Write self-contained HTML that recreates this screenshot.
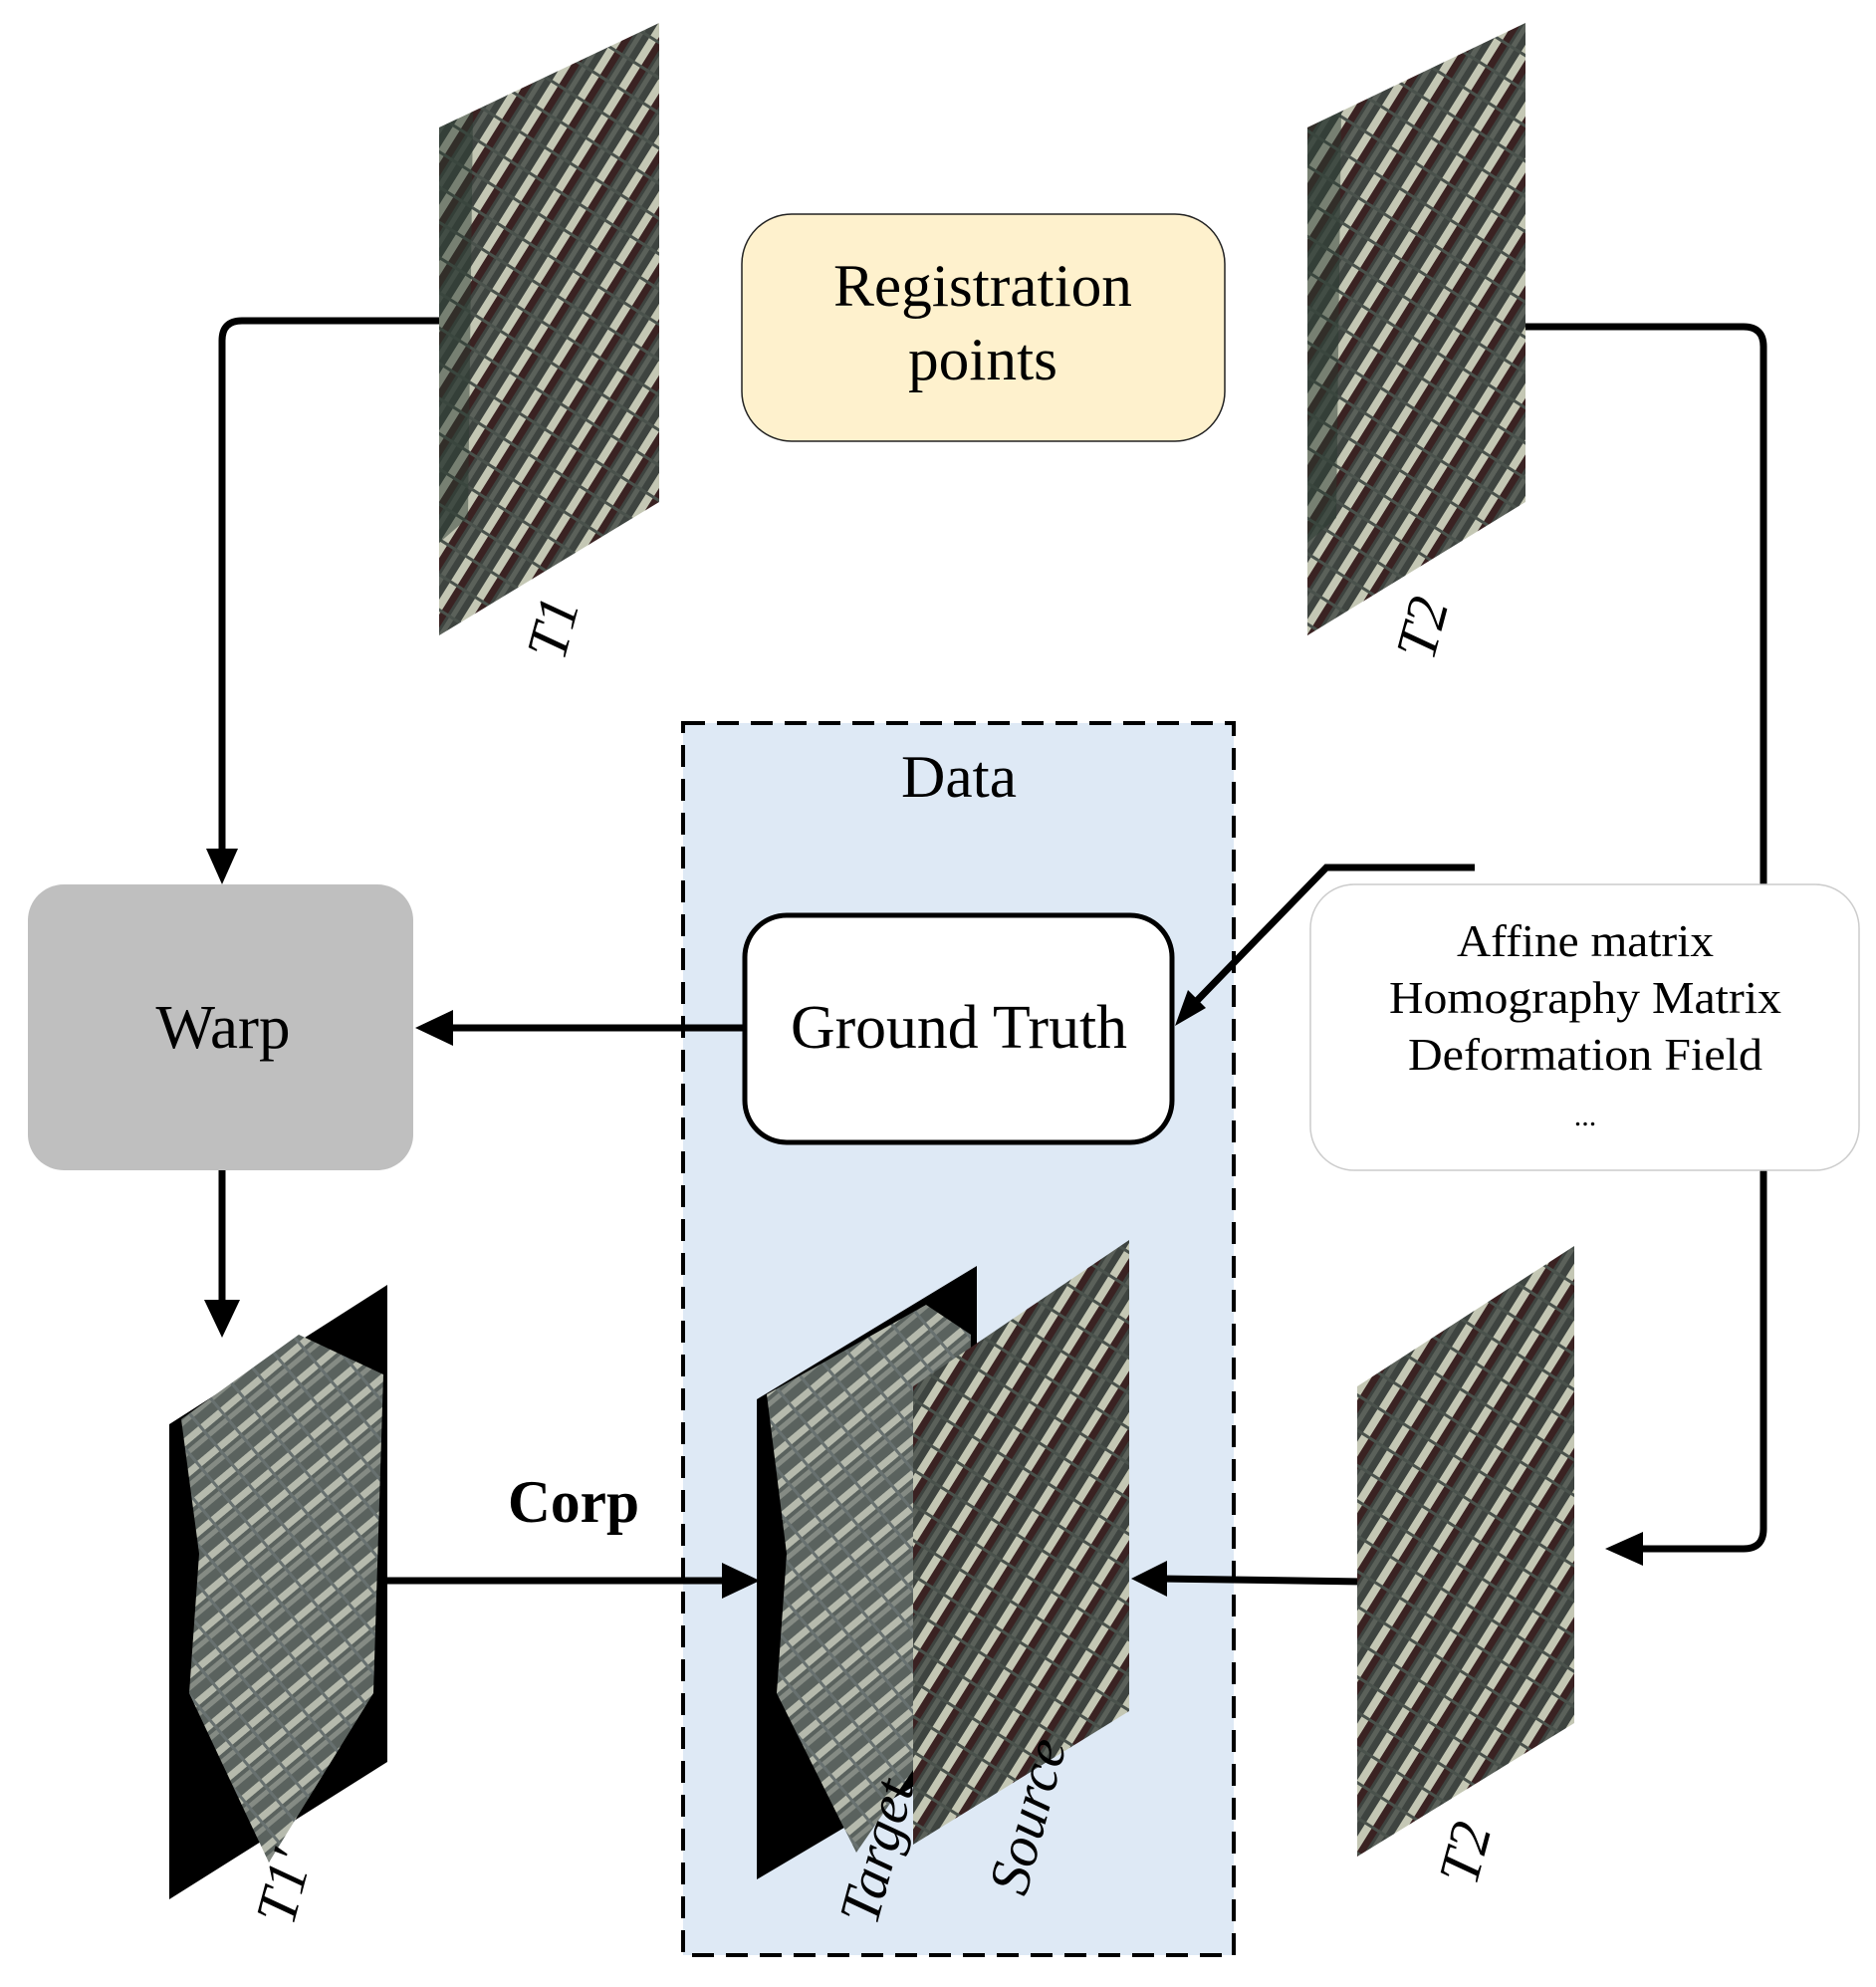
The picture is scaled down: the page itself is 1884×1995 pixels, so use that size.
<!DOCTYPE html>
<html><head><meta charset="utf-8"><style>html,body{margin:0;padding:0;background:#fff}svg{display:block}text{font-family:"Liberation Serif",serif}</style></head>
<body>
<svg width="1884" height="1995" viewBox="0 0 1884 1995" xmlns="http://www.w3.org/2000/svg">
<defs>
<pattern id="sat" width="30" height="30" patternUnits="userSpaceOnUse" patternTransform="rotate(-58)">
<rect width="30" height="30" fill="#3e4440"/>
<rect x="0" y="3" width="30" height="8" fill="#c4c7b4"/>
<rect x="0" y="11" width="30" height="7" fill="#3a2222"/>
<rect x="0" y="21" width="30" height="5" fill="#5b615a"/>
<rect x="13" y="0" width="3" height="30" fill="#4a524c"/>
</pattern>
<pattern id="sat2" width="26" height="26" patternUnits="userSpaceOnUse" patternTransform="rotate(-40)">
<rect width="26" height="26" fill="#5a625e"/>
<rect x="0" y="3" width="26" height="7" fill="#b6baad"/>
<rect x="0" y="14" width="26" height="5" fill="#858b84"/>
<rect x="12" y="0" width="3" height="26" fill="#687170"/>
</pattern>
</defs>

<rect x="686" y="726" width="553" height="1237" fill="#dee9f5" stroke="#000" stroke-width="4" stroke-dasharray="22,12"/>
<text x="963" y="800" font-size="60" text-anchor="middle" textLength="116" lengthAdjust="spacingAndGlyphs">Data</text>

<path d="M441,322 H243 Q223,322 223,342 V860" fill="none" stroke="#000" stroke-width="7"/>
<path d="M207,852 L223,888 L239,852 Z" fill="#000"/>
<path d="M1532,328 H1751 Q1771,328 1771,348 V1535 Q1771,1555 1751,1555 H1640" fill="none" stroke="#000" stroke-width="7"/>
<path d="M1650,1538 L1612,1555 L1650,1572 Z" fill="#000"/>
<path d="M746,1032 H445" fill="none" stroke="#000" stroke-width="7"/>
<path d="M455,1014 L417,1032 L455,1050 Z" fill="#000"/>
<path d="M1481,871 H1332 L1195,1012" fill="none" stroke="#000" stroke-width="7"/>
<path d="M1180,1030 L1193,994 L1211,1012 Z" fill="#000"/>
<path d="M223,1175 V1315" fill="none" stroke="#000" stroke-width="7"/>
<path d="M205,1305 L223,1343 L241,1305 Z" fill="#000"/>
<path d="M389,1587 H735" fill="none" stroke="#000" stroke-width="7"/>
<path d="M725,1569 L763,1587 L725,1605 Z" fill="#000"/>
<path d="M1369,1588 L1165,1585" fill="none" stroke="#000" stroke-width="7"/>
<path d="M1172,1567 L1136,1585 L1172,1603 Z" fill="#000"/>

<text x="576" y="1528" font-size="60" font-weight="bold" text-anchor="middle" textLength="132" lengthAdjust="spacingAndGlyphs">Corp</text>

<rect x="745" y="215" width="485" height="228" rx="50" fill="#fef1cd" stroke="#222" stroke-width="1.5"/>
<text x="987" y="307" font-size="60" text-anchor="middle" textLength="300" lengthAdjust="spacingAndGlyphs">Registration</text>
<text x="987" y="381" font-size="60" text-anchor="middle" textLength="150" lengthAdjust="spacingAndGlyphs">points</text>

<rect x="28" y="888" width="387" height="287" rx="36" fill="#bfbfbf"/>
<text x="224" y="1052" font-size="62" text-anchor="middle" textLength="135" lengthAdjust="spacingAndGlyphs">Warp</text>

<rect x="748" y="919" width="429" height="228" rx="42" fill="#fff" stroke="#000" stroke-width="5"/>
<text x="963" y="1052" font-size="62" text-anchor="middle" textLength="338" lengthAdjust="spacingAndGlyphs">Ground Truth</text>

<rect x="1316" y="888" width="551" height="287" rx="44" fill="#fff" stroke="#ccc" stroke-width="1.5"/>
<text x="1592" y="960" font-size="46" text-anchor="middle" textLength="258" lengthAdjust="spacingAndGlyphs">Affine matrix</text>
<text x="1592" y="1017" font-size="46" text-anchor="middle" textLength="394" lengthAdjust="spacingAndGlyphs">Homography Matrix</text>
<text x="1592" y="1074" font-size="46" text-anchor="middle" textLength="356" lengthAdjust="spacingAndGlyphs">Deformation Field</text>
<text x="1592" y="1130" font-size="30" text-anchor="middle">...</text>

<polygon points="441,128 662,23 662,504 441,638" fill="url(#sat)"/>
<polygon points="441,128 475,112 470,520 441,545" fill="#2a3a30" opacity="0.5"/>
<text x="0" y="0" font-size="58" font-style="italic" transform="translate(566,665) rotate(-75)">T1</text>

<polygon points="1313,128 1532,23 1532,504 1313,638" fill="url(#sat)"/>
<polygon points="1313,128 1347,112 1342,520 1313,545" fill="#2a3a30" opacity="0.5"/>
<text x="0" y="0" font-size="58" font-style="italic" transform="translate(1439,665) rotate(-75)">T2</text>

<polygon points="170,1430 389,1290 389,1769 170,1907" fill="#000"/>
<polygon points="182,1425 300,1340 385,1380 375,1700 270,1870 190,1700 200,1560" fill="url(#sat2)"/>
<text x="0" y="0" font-size="58" font-style="italic" transform="translate(294,1935) rotate(-75)">T1′</text>

<polygon points="760,1405 981,1271 981,1756 760,1887" fill="#000"/>
<polygon points="770,1400 930,1310 975,1340 970,1700 860,1860 780,1700 790,1560" fill="url(#sat2)"/>
<polygon points="917,1392 1134,1245 1134,1718 917,1852" fill="url(#sat)"/>
<text x="0" y="0" font-size="58" font-style="italic" transform="translate(880,1935) rotate(-75)">Target</text>
<text x="0" y="0" font-size="58" font-style="italic" transform="translate(1030,1905) rotate(-75)">Source</text>

<polygon points="1363,1392 1581,1251 1581,1730 1363,1864" fill="url(#sat)"/>
<text x="0" y="0" font-size="58" font-style="italic" transform="translate(1482,1895) rotate(-75)">T2</text>
</svg>
</body></html>
